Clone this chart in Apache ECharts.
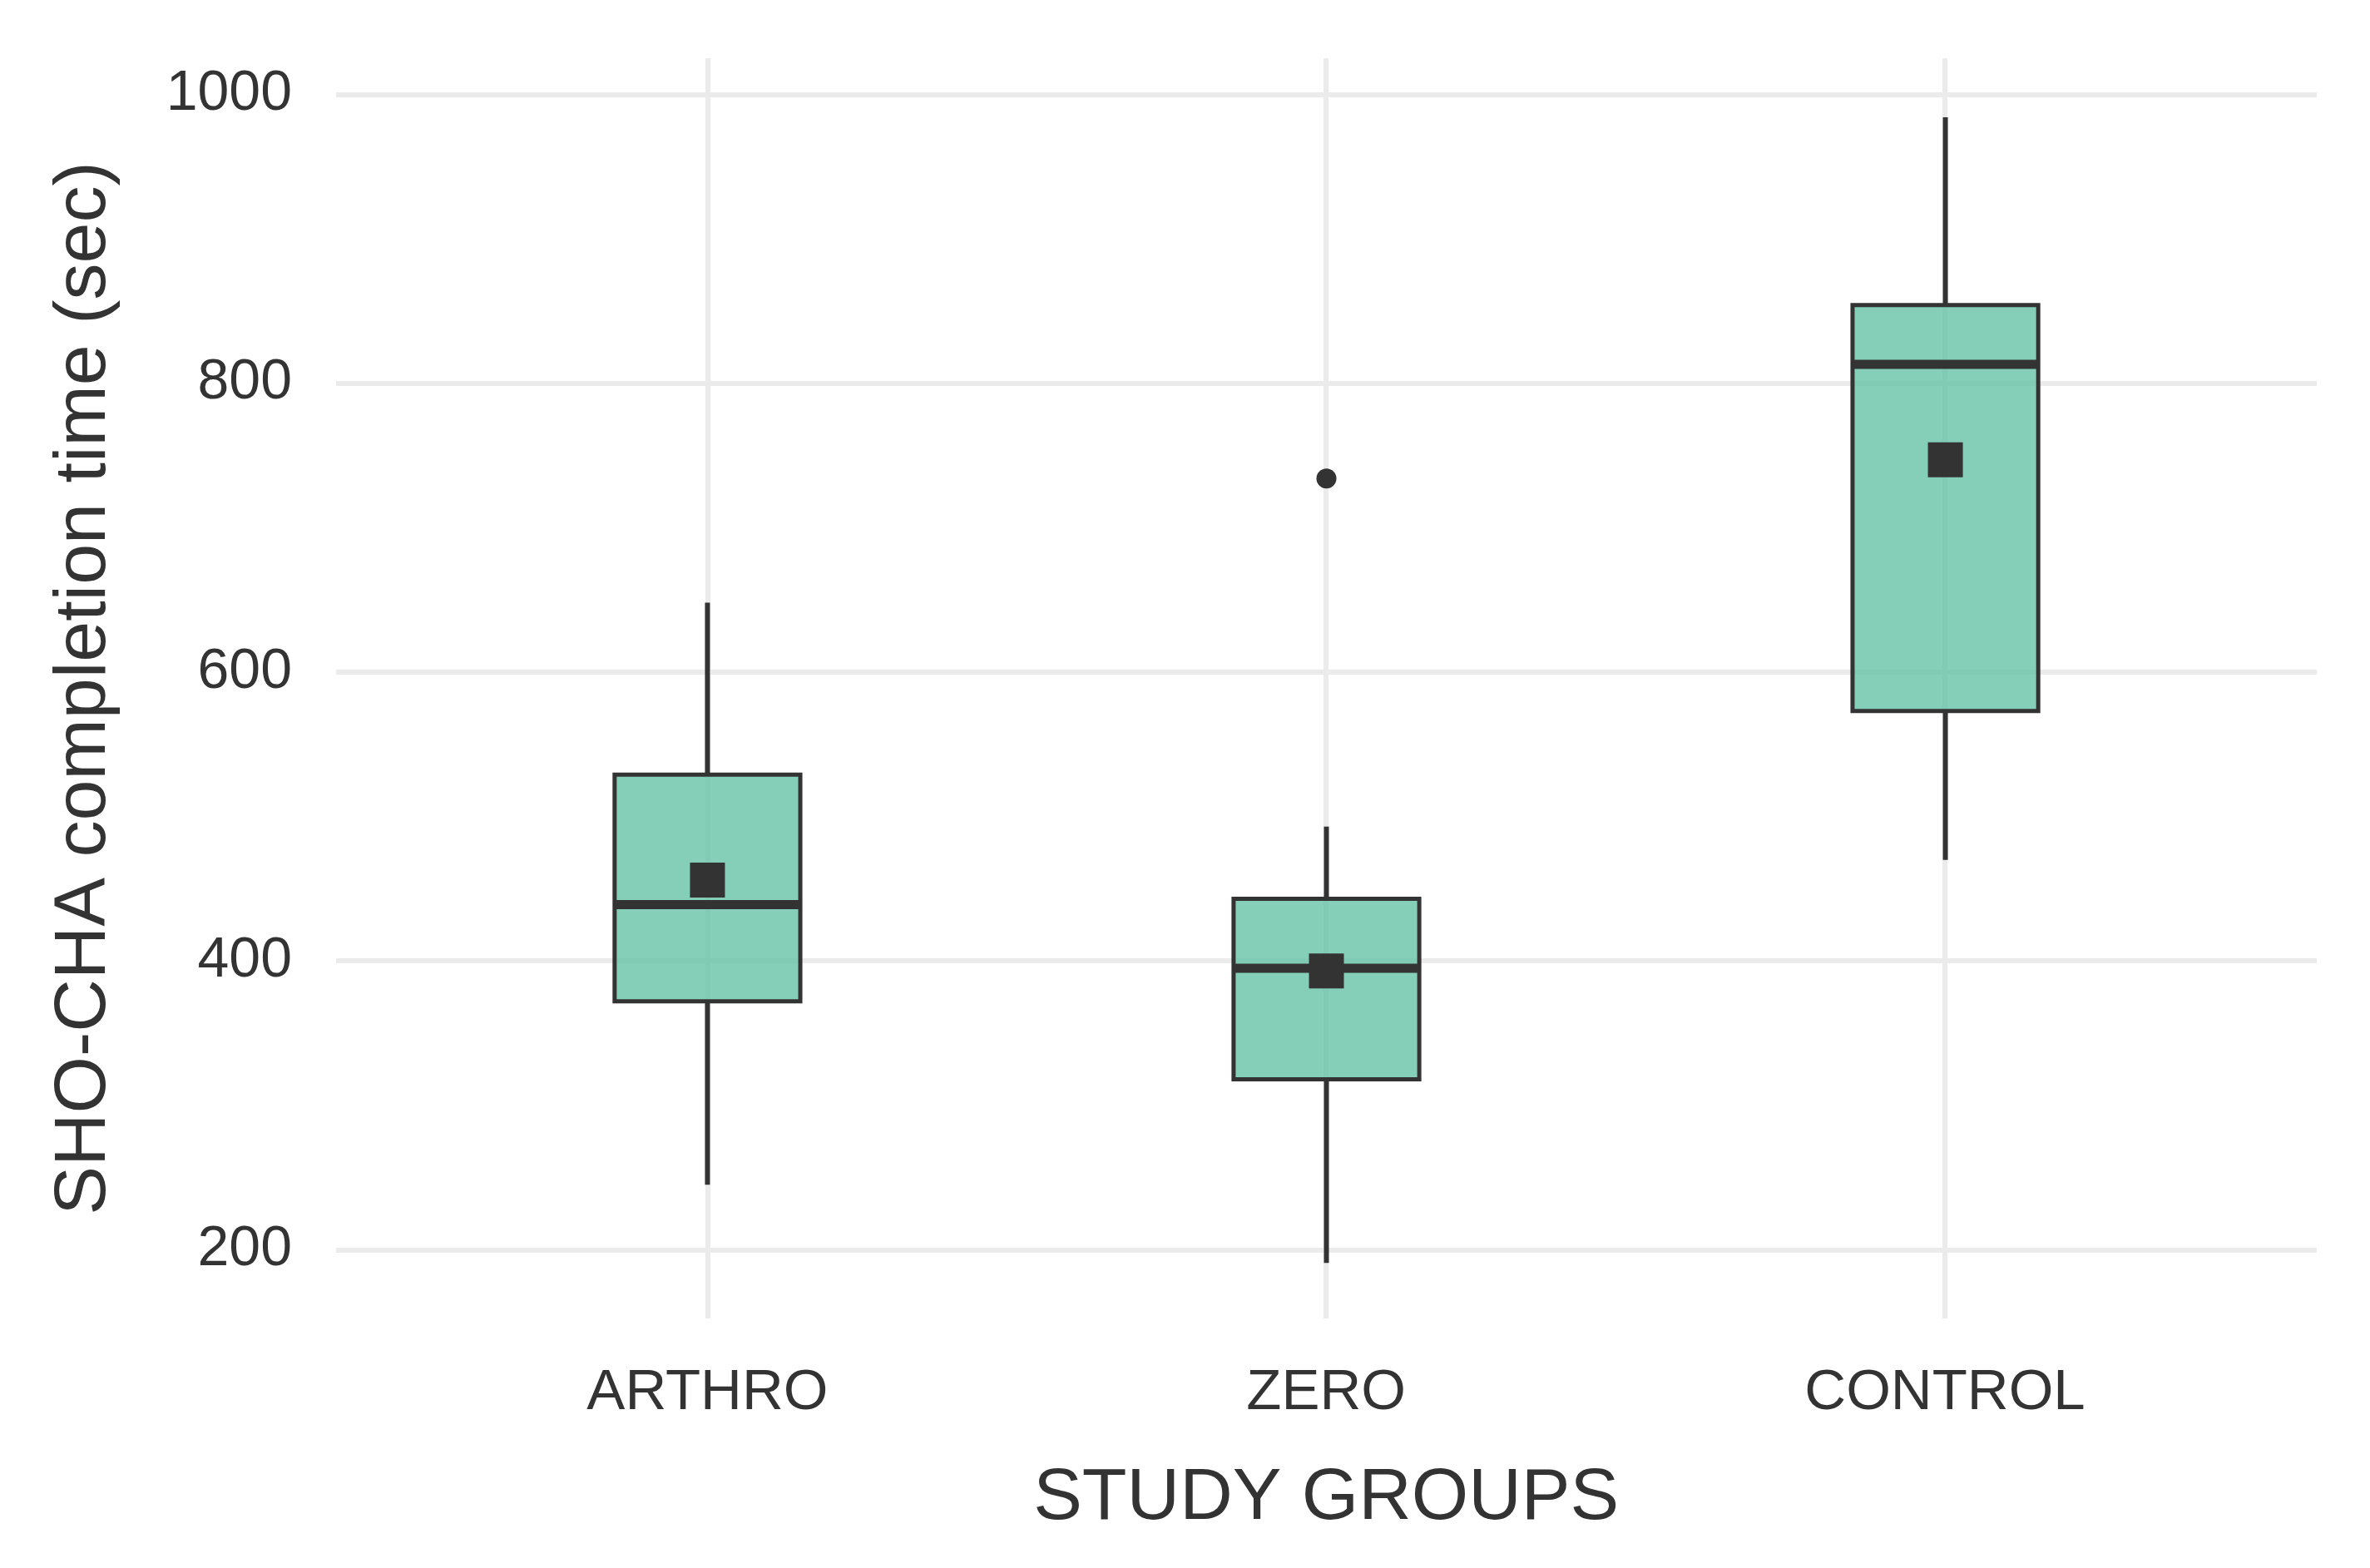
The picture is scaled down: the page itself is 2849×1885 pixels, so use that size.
<!DOCTYPE html>
<html>
<head>
<meta charset="utf-8">
<script src="https://cdn.jsdelivr.net/npm/echarts@6/dist/echarts.min.js"></script>
<style>
html, body { margin: 0; padding: 0; background: #ffffff; }
#chart { width: 2849px; height: 1885px; }
</style>
</head>
<body>
<div id="chart"></div>
<script>
// ---- data ----
const categories = ['ARTHRO', 'ZERO', 'CONTROL'];
const whiskerLow  = [245, 191, 470];
const q1          = [372, 318, 573];
const median      = [439, 395, 813];
const q3          = [529, 443, 854];
const whiskerHigh = [648, 493, 984];
const means       = [456, 393, 747];
const outlierGroup = [1];      // index into categories
const outlierValue = [734];
const yTicks = [200, 400, 600, 800, 1000];

// ---- styling constants ----
const FONT = 'Liberation Sans, Arial, Helvetica, sans-serif';
const TEXT = '#333333';
const GRID_COLOR = '#EBEBEB';
const LINE = '#333333';
const BOX_FILL = 'rgba(102,194,165,0.8)';
const BOX_WIDTH = 0.3; // in category units

const boxData = categories.map((c, i) => [i + 1, whiskerLow[i], q1[i], median[i], q3[i], whiskerHigh[i]]);
const meanData = categories.map((c, i) => [i + 1, means[i]]);
const outlierData = outlierGroup.map((g, i) => [g + 1, outlierValue[i]]);

function renderBox(params, api) {
  const x = api.value(0);
  const pLow = api.coord([x, api.value(1)]);
  const pQ1 = api.coord([x, api.value(2)]);
  const pMed = api.coord([x, api.value(3)]);
  const pQ3 = api.coord([x, api.value(4)]);
  const pHigh = api.coord([x, api.value(5)]);
  const w = api.size([BOX_WIDTH, 0])[0];
  const cx = pMed[0];
  return {
    type: 'group',
    children: [
      { type: 'line', shape: { x1: cx, y1: pQ3[1], x2: cx, y2: pHigh[1] }, style: { stroke: LINE, lineWidth: 6 } },
      { type: 'line', shape: { x1: cx, y1: pQ1[1], x2: cx, y2: pLow[1] }, style: { stroke: LINE, lineWidth: 6 } },
      { type: 'rect', shape: { x: cx - w / 2, y: pQ3[1], width: w, height: pQ1[1] - pQ3[1] },
        style: { fill: BOX_FILL, stroke: LINE, lineWidth: 5 } },
      { type: 'line', shape: { x1: cx - w / 2, y1: pMed[1], x2: cx + w / 2, y2: pMed[1] }, style: { stroke: LINE, lineWidth: 11 } }
    ]
  };
}

const chart = echarts.init(document.getElementById('chart'), null, { renderer: 'canvas' });
chart.setOption({
  backgroundColor: '#ffffff',
  animation: false,
  grid: [
    { left: 404, top: 113.3, width: 2381, height: 1389.2 },
    { left: 850.4, top: 70, width: 1487.6, height: 1515 }
  ],
  xAxis: [
    { gridIndex: 0, type: 'value', min: 0.4, max: 3.6, show: false },
    {
      gridIndex: 1, type: 'category', data: categories, boundaryGap: false,
      axisLine: { show: false }, axisTick: { show: false },
      axisLabel: { margin: 55, fontSize: 69, color: TEXT, fontFamily: FONT },
      splitLine: { show: true, lineStyle: { color: GRID_COLOR, width: 6 } },
      name: 'STUDY GROUPS', nameLocation: 'middle', nameGap: 173,
      nameTextStyle: { fontSize: 88, color: TEXT, fontFamily: FONT }
    }
  ],
  yAxis: [
    {
      gridIndex: 0, type: 'value', min: yTicks[0], max: yTicks[yTicks.length - 1], interval: yTicks[1] - yTicks[0],
      axisLine: { show: false }, axisTick: { show: false },
      axisLabel: { margin: 53, fontSize: 68, color: TEXT, fontFamily: FONT, formatter: v => String(v) },
      splitLine: { show: true, lineStyle: { color: GRID_COLOR, width: 6 } }
    },
    {
      gridIndex: 1, type: 'value', min: 0, max: 1,
      axisLine: { show: false }, axisTick: { show: false }, axisLabel: { show: false }, splitLine: { show: false },
      name: 'SHO-CHA completion time (sec)', nameLocation: 'middle', nameGap: 705,
      nameTextStyle: { fontSize: 88, color: TEXT, fontFamily: FONT }
    }
  ],
  series: [
    {
      type: 'custom', xAxisIndex: 0, yAxisIndex: 0, renderItem: renderBox,
      encode: { x: 0, y: [1, 2, 3, 4, 5] }, data: boxData, z: 2
    },
    {
      type: 'scatter', xAxisIndex: 0, yAxisIndex: 0, data: meanData,
      symbol: 'rect', symbolSize: 42, itemStyle: { color: LINE, opacity: 1 }, z: 3
    },
    {
      type: 'scatter', xAxisIndex: 0, yAxisIndex: 0, data: outlierData,
      symbol: 'circle', symbolSize: 24, itemStyle: { color: LINE, opacity: 1 }, z: 3
    }
  ]
});
</script>
</body>
</html>
